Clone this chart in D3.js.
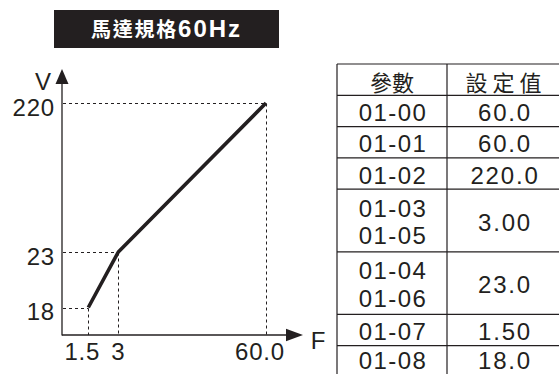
<!DOCTYPE html>
<html><head><meta charset="utf-8">
<script src="https://cdn.jsdelivr.net/npm/d3@7"></script>
<style>html,body{margin:0;padding:0;background:#fff;overflow:hidden}</style>
</head><body>
<script>
// ---- data ----
const titleCJK = "馬達規格";
const titleLatin = "60Hz";
const freqs = [1.5, 3, 60];
const volts = [18, 23, 220];
const freqLabels = ["1.5", "3", "60.0"];
const voltLabels = ["18", "23", "220"];
const axisX = "F", axisY = "V";
const tableHeader = ["參數", "設定值"];
const paramCodes = [["01-00"], ["01-01"], ["01-02"], ["01-03", "01-05"], ["01-04", "01-06"], ["01-07"], ["01-08"]];
const paramValues = ["60.0", "60.0", "220.0", "3.00", "23.0", "1.50", "18.0"];

// ---- drawing ----
const W = 559, H = 374, ink = "#231f20";
const svg = d3.select("body").append("svg").attr("width", W).attr("height", H);
const latin = "'Liberation Sans', Arial, sans-serif";
const cjk = "'Noto Sans CJK TC', 'Noto Sans CJK SC', sans-serif";
const crisp = v => Math.round(v) + 0.5;

// title
svg.append("rect").attr("x", 54).attr("y", 10).attr("width", 225).attr("height", 38).attr("fill", ink);
const tt = svg.append("text").attr("x", 166.5).attr("y", 37).attr("text-anchor", "middle").attr("fill", "#fff");
tt.append("tspan").attr("font-family", cjk).attr("font-weight", 700).attr("font-size", 20).attr("letter-spacing", 1.8).text(titleCJK);
tt.append("tspan").attr("font-family", latin).attr("font-weight", 700).attr("font-size", 24).attr("letter-spacing", 2).text(titleLatin);

// chart scales (piecewise, as drawn in the reference)
const originX = 62, originY = 335;
const x = d3.scaleLinear().domain([0, freqs[0], freqs[1], freqs[2]]).range([originX, 88.3, 118.3, 266]);
const y = d3.scaleLinear().domain([0, volts[0], volts[1], volts[2]]).range([originY, 307.5, 252, 103]);

const g = svg.append("g");
// dashed guides
freqs.forEach((f, i) => {
  const px = crisp(x(f)), py = crisp(y(volts[i]));
  g.append("line").attr("x1", originX + 1).attr("x2", px).attr("y1", py).attr("y2", py)
    .attr("stroke", ink).attr("stroke-width", 1).attr("stroke-dasharray", "3,3");
  g.append("line").attr("x1", px).attr("x2", px).attr("y1", py).attr("y2", originY)
    .attr("stroke", ink).attr("stroke-width", 1).attr("stroke-dasharray", "3,3");
});
// axes
g.append("line").attr("x1", originX).attr("x2", originX).attr("y1", originY + 0.6).attr("y2", 82).attr("stroke", ink).attr("stroke-width", 1.3);
g.append("line").attr("x1", originX).attr("x2", 288).attr("y1", originY).attr("y2", originY).attr("stroke", ink).attr("stroke-width", 1.3);
g.append("path").attr("d", `M${originX},69 L${originX - 6.5},84 L${originX + 6.5},84 Z`).attr("fill", ink);
g.append("path").attr("d", `M303,${originY} L286,${originY - 6.3} L286,${originY + 6.3} Z`).attr("fill", ink);

// curve
const pts = freqs.map((f, i) => [f, volts[i]]);
g.append("path").datum(pts)
  .attr("d", d3.line().x(d => x(d[0])).y(d => y(d[1])))
  .attr("fill", "none").attr("stroke", ink).attr("stroke-width", 3.6).attr("stroke-linejoin", "round");

// tick labels
const lab = { "font-family": latin, "font-size": 24, "fill": ink, "letter-spacing": 0.8 };
voltLabels.forEach((t, i) => {
  const el = g.append("text").attr("x", 55).attr("y", y(volts[i]) + 4).attr("text-anchor", "end").attr("dominant-baseline", "central").text(t);
  Object.entries(lab).forEach(([k, v]) => el.attr(k, v));
});
freqLabels.forEach((t, i) => {
  const el = g.append("text").attr("x", x(freqs[i]) - (i === 1 ? 0 : 6)).attr("y", 360).attr("text-anchor", "middle").text(t);
  Object.entries(lab).forEach(([k, v]) => el.attr(k, v));
});
const va = g.append("text").attr("x", 43.5).attr("y", 89.5).attr("text-anchor", "middle").text(axisY);
Object.entries(lab).forEach(([k, v]) => va.attr(k, v));
const fa = g.append("text").attr("x", 318.5).attr("y", 348.5).attr("text-anchor", "middle").text(axisX);
Object.entries(lab).forEach(([k, v]) => fa.attr(k, v));

// table
const tx0 = 337, tx1 = 447, tx2 = 559, ty0 = 64, unit = 31.3;
const t = svg.append("g");
const rows = [{ lines: [tableHeader[0]], value: tableHeader[1], header: true }]
  .concat(paramCodes.map((c, i) => ({ lines: c, value: paramValues[i], header: false })));
let cy = ty0;
const lineStyle = s => s.attr("stroke", ink).attr("stroke-width", 1.2);
lineStyle(t.append("line").attr("x1", tx0).attr("x2", tx2).attr("y1", ty0).attr("y2", ty0));
rows.forEach((r, ri) => {
  const h = unit * r.lines.length;
  const mid = cy + h / 2;
  const dy = ri === rows.length - 1 ? -0.5 : 1.5;
  if (r.header) {
    t.append("text").attr("x", (tx0 + tx1) / 2).attr("y", mid + 1).attr("text-anchor", "middle").attr("dominant-baseline", "central")
      .attr("font-family", cjk).attr("font-size", 22).attr("fill", ink).text(r.lines[0]);
    t.append("text").attr("x", (tx1 + tx2) / 2 + 3).attr("y", mid + 1).attr("text-anchor", "middle").attr("dominant-baseline", "central")
      .attr("font-family", cjk).attr("font-size", 22).attr("letter-spacing", 5).attr("fill", ink).text(r.value);
  } else {
    r.lines.forEach((s, k) => {
      const ly = mid + (k - (r.lines.length - 1) / 2) * 27.5 + dy;
      t.append("text").attr("x", (tx0 + tx1) / 2 + 1).attr("y", ly).attr("text-anchor", "middle").attr("dominant-baseline", "central")
        .attr("font-family", latin).attr("font-size", 24).attr("letter-spacing", 1.4).attr("fill", ink).text(s);
    });
    t.append("text").attr("x", (tx1 + tx2) / 2 + 2).attr("y", mid + dy).attr("text-anchor", "middle").attr("dominant-baseline", "central")
      .attr("font-family", latin).attr("font-size", 24).attr("letter-spacing", 1.8).attr("fill", ink).text(r.value);
  }
  cy += h;
  lineStyle(t.append("line").attr("x1", tx0).attr("x2", tx2).attr("y1", cy).attr("y2", cy));
});
lineStyle(t.append("line").attr("x1", tx0).attr("x2", tx0).attr("y1", ty0).attr("y2", H));
lineStyle(t.append("line").attr("x1", tx1).attr("x2", tx1).attr("y1", ty0).attr("y2", H));
</script>
</body></html>
